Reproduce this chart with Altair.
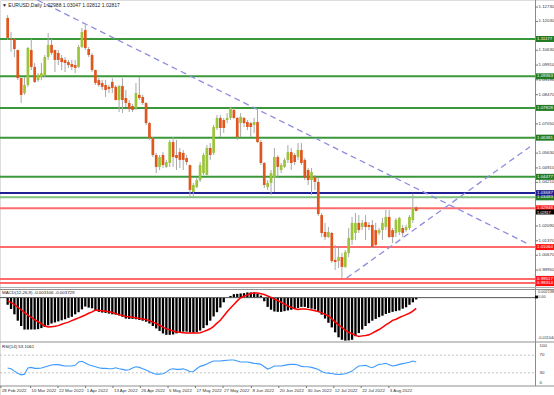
import altair as alt
import pandas as pd

header = "\u25bc EURUSD,Daily  1.02988 1.03047 1.02812 1.02817"
macd_title = "MACD(12,26,9) -0.003106 -0.003729"
rsi_title = "RSI(14) 53.1061"

opens = [1.1220,1.1118,1.1118,1.1064,1.0928,1.0855,1.0894,1.1064,1.0982,1.0918,
1.0933,1.0943,1.1030,1.1089,1.1064,1.1050,1.1025,1.1016,1.1006,1.0996,
1.0991,1.0982,1.1079,1.1161,1.1069,1.1040,1.0967,1.0918,1.0904,1.0894,
1.0885,1.0909,1.0885,1.0821,1.0889,1.0831,1.0807,1.0792,1.0782,1.0846,
1.0836,1.0807,1.0709,1.0636,1.0554,1.0496,1.0554,1.0496,1.0515,1.0617,
1.0554,1.0568,1.0564,1.0539,1.0505,1.0374,1.0398,1.0432,1.0466,1.0457,
1.0588,1.0564,1.0685,1.0734,1.0724,1.0724,1.0734,1.0773,1.0734,1.0709,
1.0734,1.0714,1.0709,1.0700,1.0714,1.0617,1.0515,1.0398,1.0418,1.0442,
1.0544,1.0481,1.0496,1.0530,1.0568,1.0554,1.0544,1.0578,1.0530,1.0481,
1.0432,1.0447,1.0423,1.0262,1.0180,1.0155,1.0175,1.0044,1.0039,1.0058,
1.0010,1.0078,1.0141,1.0175,1.0224,1.0204,1.0228,1.0214,1.0214,1.0189,
1.0175,1.0189,1.0204,1.0253,1.0189,1.0175,1.0180,1.0199,1.0189,1.0199,
1.0238,1.02988]
highs = [1.1234,1.1152,1.1120,1.1066,1.0930,1.0933,1.1079,1.1118,1.1001,1.0952,
1.1001,1.1040,1.1147,1.1118,1.1066,1.1064,1.1040,1.1030,1.1016,1.1016,
1.1016,1.1089,1.1171,1.1186,1.1079,1.1050,1.0969,1.0928,1.0918,1.0918,
1.0894,1.0928,1.0894,1.0894,1.0928,1.0870,1.0821,1.0802,1.0904,1.0933,
1.0846,1.0809,1.0714,1.0641,1.0564,1.0554,1.0568,1.0530,1.0627,1.0641,
1.0627,1.0588,1.0578,1.0554,1.0507,1.0418,1.0442,1.0520,1.0564,1.0602,
1.0612,1.0700,1.0748,1.0748,1.0734,1.0758,1.0787,1.0782,1.0739,1.0758,
1.0739,1.0724,1.0714,1.0734,1.0773,1.0627,1.0520,1.0432,1.0481,1.0588,
1.0554,1.0515,1.0539,1.0602,1.0588,1.0564,1.0612,1.0612,1.0539,1.0491,
1.0491,1.0457,1.0442,1.0272,1.0224,1.0204,1.0180,1.0117,1.0107,1.0078,
1.0092,1.0199,1.0253,1.0272,1.0262,1.0238,1.0262,1.0228,1.0238,1.0224,
1.0199,1.0248,1.0287,1.0287,1.0199,1.0248,1.0253,1.0214,1.0214,1.0262,
1.0366,1.03047]
lows = [1.1113,1.1055,1.1030,1.0918,1.0807,1.0846,1.0885,1.0967,1.0904,1.0909,
1.0918,1.0933,1.1016,1.1040,1.0957,1.0991,1.0967,1.0957,1.0977,1.0967,
1.0952,1.0977,1.1074,1.1064,1.1030,1.0957,1.0894,1.0885,1.0870,1.0836,
1.0855,1.0855,1.0819,1.0763,1.0758,1.0787,1.0763,1.0763,1.0773,1.0821,
1.0797,1.0700,1.0627,1.0544,1.0466,1.0481,1.0491,1.0491,1.0496,1.0496,
1.0481,1.0491,1.0481,1.0505,1.0345,1.0350,1.0393,1.0423,1.0457,1.0455,
1.0530,1.0554,1.0675,1.0641,1.0661,1.0709,1.0724,1.0729,1.0627,1.0641,
1.0690,1.0675,1.0641,1.0661,1.0612,1.0505,1.0393,1.0384,1.0359,1.0374,
1.0447,1.0466,1.0491,1.0515,1.0481,1.0505,1.0530,1.0505,1.0432,1.0408,
1.0359,1.0384,1.0257,1.0155,1.0141,1.0151,1.0029,0.9995,1.0005,0.9956,
1.0005,1.0058,1.0117,1.0141,1.0175,1.0189,1.0141,1.0189,1.0102,1.0107,
1.0165,1.0141,1.0189,1.0151,1.0126,1.0155,1.0165,1.0155,1.0180,1.0189,
1.0224,1.02812]
closes = [1.1123,1.1113,1.1069,1.0928,1.0846,1.0894,1.1074,1.0982,1.0909,1.0943,
1.0952,1.1030,1.1089,1.1050,1.1016,1.1016,1.1006,1.1001,1.0991,1.0982,
1.0977,1.1079,1.1152,1.1074,1.1040,1.0967,1.0904,1.0894,1.0885,1.0870,
1.0875,1.0880,1.0821,1.0889,1.0821,1.0807,1.0777,1.0773,1.0855,1.0831,
1.0807,1.0709,1.0636,1.0554,1.0496,1.0544,1.0505,1.0520,1.0617,1.0544,
1.0539,1.0530,1.0530,1.0520,1.0384,1.0408,1.0432,1.0505,1.0554,1.0588,
1.0554,1.0690,1.0734,1.0685,1.0685,1.0734,1.0782,1.0734,1.0641,1.0739,
1.0709,1.0690,1.0690,1.0714,1.0617,1.0515,1.0408,1.0418,1.0466,1.0544,
1.0496,1.0505,1.0530,1.0568,1.0515,1.0520,1.0578,1.0515,1.0442,1.0432,
1.0471,1.0423,1.0267,1.0175,1.0155,1.0180,1.0039,1.0034,1.0058,1.0010,
1.0082,1.0151,1.0224,1.0224,1.0189,1.0224,1.0204,1.0204,1.0107,1.0117,
1.0189,1.0224,1.0253,1.0155,1.0155,1.0238,1.0248,1.0175,1.0204,1.0253,
1.0296,1.02817]

# MACD main (histogram) and signal, in thousandths
macd_main = [-1.82,-2.90,-4.25,-5.87,-7.22,-8.12,-8.12,-8.12,-8.12,-8.03,
-7.76,-7.49,-7.04,-6.59,-6.32,-6.05,-5.78,-5.51,-5.15,-4.88,
-4.25,-3.71,-2.99,-2.27,-2.54,-2.72,-3.17,-3.62,-3.80,-3.89,
-4.07,-4.25,-4.34,-4.52,-4.88,-5.33,-5.42,-5.42,-5.51,-5.69,
-5.87,-6.14,-6.59,-7.22,-7.85,-8.48,-9.11,-9.47,-9.47,-9.38,
-9.11,-8.93,-8.66,-8.66,-8.84,-8.93,-8.75,-8.39,-7.76,-7.04,
-5.87,-4.79,-3.71,-2.54,-1.19,-0.02,0.43,0.88,0.97,1.06,
1.15,1.33,1.33,1.33,0.97,0.52,-0.92,-2.36,-3.08,-3.53,
-3.62,-3.62,-3.44,-3.26,-3.08,-2.81,-2.63,-2.36,-2.36,-2.63,
-2.81,-2.99,-3.53,-4.34,-5.33,-6.41,-7.58,-8.84,-10.10,-10.73,
-10.95,-10.90,-10.73,-9.83,-9.02,-8.12,-7.22,-6.50,-5.87,-5.42,
-4.97,-4.61,-4.16,-3.89,-3.62,-3.44,-3.26,-2.81,-2.45,-1.82,
-1.19,-0.47]
macd_signal = [-0.83,-1.28,-1.73,-2.45,-3.08,-3.80,-4.43,-5.06,-5.60,-6.14,
-6.68,-7.22,-7.49,-7.40,-7.31,-7.13,-6.77,-6.50,-6.23,-5.87,
-5.51,-5.15,-4.79,-4.43,-3.98,-3.62,-3.17,-3.26,-3.35,-3.44,
-3.62,-3.80,-4.07,-4.34,-4.52,-4.79,-4.88,-4.97,-5.15,-5.33,
-5.42,-5.60,-5.87,-6.23,-6.59,-7.04,-7.49,-7.94,-8.21,-8.48,
-8.75,-8.84,-8.93,-9.02,-9.02,-9.02,-9.02,-8.93,-8.66,-8.30,
-7.94,-7.31,-6.50,-5.78,-4.70,-3.62,-2.63,-1.73,-0.83,-0.02,
0.34,0.70,1.06,1.15,1.15,0.97,0.79,0.43,0.07,-0.38,
-0.74,-1.19,-1.64,-2.09,-2.45,-2.81,-2.99,-2.90,-2.90,-2.99,
-3.17,-3.35,-3.53,-3.89,-4.25,-4.61,-5.42,-6.23,-6.95,-7.58,
-8.30,-8.84,-9.20,-9.56,-9.92,-9.74,-9.65,-9.47,-9.02,-8.57,
-8.12,-7.58,-6.95,-6.41,-5.78,-5.51,-5.06,-4.70,-4.34,-3.98,
-3.44,-2.72]
rsi = [40.8,39.2,33.8,29.2,25.4,26.9,40.8,42.3,40.0,40.0,
40.8,43.1,45.4,47.7,48.5,48.5,46.9,45.4,45.4,45.4,
46.9,54.6,56.1,52.3,48.5,46.1,43.8,41.5,40.0,40.0,
39.2,39.2,41.5,39.2,37.7,36.2,36.9,40.8,43.8,42.3,
39.2,36.2,32.3,29.2,26.9,26.9,27.7,31.5,37.7,39.2,
37.7,37.7,39.2,36.2,32.3,33.1,39.2,44.6,46.9,50.0,
53.8,56.9,56.9,56.9,57.7,58.5,59.2,59.2,56.9,54.6,
54.6,54.6,53.1,51.5,50.8,49.2,43.8,38.5,41.5,45.4,
45.4,45.4,46.9,48.5,49.2,49.2,47.7,44.6,43.8,43.8,
42.3,40.0,37.7,33.1,30.0,29.2,28.5,26.9,26.2,26.9,
27.7,30.8,33.8,40.0,45.4,46.1,46.9,43.8,41.5,45.4,
49.2,50.0,51.5,48.5,45.4,46.9,49.2,50.8,52.3,53.8,
56.9,54.5]

date_labels = ["28 Feb 2022","10 Mar 2022","22 Mar 2022","1 Apr 2022","13 Apr 2022",
               "26 Apr 2022","5 May 2022","17 May 2022","27 May 2022","8 Jun 2022",
               "20 Jun 2022","30 Jun 2022","12 Jul 2022","22 Jul 2022","3 Aug 2022"]
date_bars = [-1.0, 7.8, 15.9, 24.1, 32.2, 40.3, 48.5, 56.6, 64.8, 73.2, 81.3, 89.5, 97.6, 105.7, 113.9]

price_ticks = [1.12730,1.12030,1.10630,1.09910,1.09190,1.08470,1.07050,1.05630,
               1.04910,1.04210,1.02090,1.01370,1.00670,0.99950]

level_prices = [1.11177,1.09363,1.07828,1.06381,1.04477,1.03483,1.03687,1.02948,1.01064,0.99517,0.99314]
level_kinds = ["res","res","res","res","res","zone","pivot","sup","sup","sup","sup"]

trend_ids = ["down","down","up","up"]
trend_bars = [9.81, 155.7, 101.4, 155.7]
trend_prices = [1.1307, 1.0117, 0.9956, 1.0594]

last_close = 1.02817

# ---------------- tables ----------------
n = len(closes)
bars = pd.DataFrame({"i": list(range(1, n + 1)), "open": opens, "high": highs,
                     "low": lows, "close": closes, "macd": macd_main,
                     "signal": macd_signal, "rsi": rsi})
levels = pd.DataFrame({"price": level_prices, "kind": level_kinds,
                       "label": [f"{p:.5f}" for p in level_prices]})
ticks = pd.DataFrame({"price": price_ticks, "label": [f"{p:.5f}" for p in price_ticks]})
dates = pd.DataFrame({"i": date_bars, "label": date_labels})
trend = pd.DataFrame({"id": trend_ids, "i": trend_bars, "price": trend_prices})
last = pd.DataFrame({"price": [last_close], "label": [f"{last_close:.5f}"]})

FONT = "Liberation Sans"
FS = 4.4
XS = alt.Scale(domain=[0.215, 155.7], range=[0, 535], nice=False, zero=False)
PY = alt.Scale(domain=[0.99124, 1.13072], range=[287, 0], nice=False, zero=False)
MY = alt.Scale(domain=[-11.044, 2.198], range=[341, 289], nice=False, zero=False)
RY = alt.Scale(domain=[0, 100], range=[386, 342], nice=False, zero=False)

X = alt.X("i:Q", scale=XS, axis=None)

def py(field):
    return alt.Y(f"{field}:Q", scale=PY, axis=None)

layers = []

frame = pd.DataFrame({"k": [0]})
def hline(y, color, w=1):
    return alt.Chart(frame).mark_rule(color=color, strokeWidth=w).encode(
        x=alt.value(0), x2=alt.value(554), y=alt.value(y))

layers.append(alt.Chart(frame).mark_rule(color="#8a8a8a", strokeWidth=1).encode(
    x=alt.value(535.5), y=alt.value(0), y2=alt.value(386)))

# level lines
lvl_color = alt.Color("kind:N", scale=alt.Scale(domain=["res", "zone", "pivot", "sup"],
                      range=["#3a983a", "#7cc27c", "#1f1f96", "#ff6b6b"]), legend=None)
layers.append(alt.Chart(levels).mark_rule(strokeWidth=2).encode(
    x=alt.value(0), x2=alt.value(535), y=py("price"), color=lvl_color))

# trend lines
layers.append(alt.Chart(trend).mark_line(color="#8d8de0", strokeWidth=1.3, strokeDash=[6, 4]).encode(
    x=X, y=py("price"), detail="id:N"))

# candles
layers.append(alt.Chart(bars).mark_rule(color="#a8a8a8", strokeWidth=1).encode(
    x=X, y=py("low"), y2="high:Q"))
layers.append(alt.Chart(bars).mark_bar(size=2.7).encode(
    x=X, y=py("open"), y2="close:Q",
    color=alt.condition("datum.close >= datum.open", alt.value("#9cc43a"), alt.value("#e0561f"))))

# right price axis
layers.append(alt.Chart(ticks).mark_rule(color="#777", strokeWidth=1).encode(
    x=alt.value(535), x2=alt.value(538), y=py("price")))
layers.append(alt.Chart(ticks).mark_text(align="left", baseline="middle", fontSize=FS, font=FONT,
                                         color="#333").encode(
    x=alt.value(538.5), y=py("price"), text="label:N"))

# level label boxes
box_color = alt.Color("kind:N", scale=alt.Scale(domain=["res", "zone", "pivot", "sup"],
                      range=["#237a23", "#237a23", "#1a1a8c", "#ff1010"]), legend=None)
layers.append(alt.Chart(levels).mark_tick(orient="horizontal", size=19, thickness=6).encode(
    x=alt.value(545.5), y=py("price"), color=box_color, opacity=alt.value(1)))
layers.append(alt.Chart(last).mark_tick(orient="horizontal", size=19, thickness=5, color="#000").encode(
    x=alt.value(545.5), y=py("price"), opacity=alt.value(1), yOffset=alt.value(1)))
layers.append(alt.Chart(levels).mark_text(align="left", baseline="middle", fontSize=FS, font=FONT,
                                          color="white").encode(
    x=alt.value(537), y=py("price"), text="label:N"))
layers.append(alt.Chart(last).mark_text(align="left", baseline="middle", fontSize=3.8, font=FONT,
                                        color="white", dy=1.5).encode(
    x=alt.value(537), y=py("price"), text="label:N"))

# header
layers.append(alt.Chart(pd.DataFrame({"t": [header]})).mark_text(
    align="left", baseline="middle", fontSize=5, font=FONT, color="#222").encode(
    x=alt.value(2), y=alt.value(5), text="t:N"))

# panel separators
layers.append(hline(287.5, "#b0b0b0"))
layers.append(hline(289.5, "#909090"))
layers.append(hline(342, "#909090"))
layers.append(hline(386, "#909090"))

# MACD panel
layers.append(alt.Chart(bars).mark_bar(size=2.3, color="#000").encode(
    x=X, y=alt.Y("macd:Q", scale=MY, axis=None), y2=alt.datum(0)))
layers.append(alt.Chart(pd.DataFrame({"z": [0.0]})).mark_rule(color="#555", strokeWidth=1).encode(
    x=alt.value(0), x2=alt.value(535), y=alt.Y("z:Q", scale=MY, axis=None)))
layers.append(alt.Chart(bars).mark_line(color="#ff0000", strokeWidth=1.5).encode(
    x=X, y=alt.Y("signal:Q", scale=MY, axis=None)))
layers.append(alt.Chart(pd.DataFrame({"t": [macd_title]})).mark_text(
    align="left", baseline="middle", fontSize=FS, font=FONT, color="#222").encode(
    x=alt.value(2), y=alt.value(292.5), text="t:N"))
macd_lbl = pd.DataFrame({"t": ["0.002198", "0.00", "-0.011044"], "y": [291.5, 297, 338]})
layers.append(alt.Chart(macd_lbl).mark_text(
    align="left", baseline="middle", fontSize=3.9, font=FONT, color="#333").encode(
    x=alt.value(538), y=alt.Y("y:Q", scale=alt.Scale(domain=[0, 395], range=[0, 395]), axis=None),
    text="t:N"))
layers.append(alt.Chart(frame).mark_square(size=8, color="#000", opacity=1).encode(
    x=alt.value(536.5), y=alt.value(297)))

# RSI panel
rsi_lv = pd.DataFrame({"v": [70, 30]})
layers.append(alt.Chart(rsi_lv).mark_rule(color="#b5b5b5", strokeWidth=0.8, strokeDash=[2, 2]).encode(
    x=alt.value(0), x2=alt.value(535), y=alt.Y("v:Q", scale=RY, axis=None)))
layers.append(alt.Chart(bars).mark_line(color="#3d9bff", strokeWidth=1.1).encode(
    x=X, y=alt.Y("rsi:Q", scale=RY, axis=None)))
layers.append(alt.Chart(pd.DataFrame({"t": [rsi_title]})).mark_text(
    align="left", baseline="middle", fontSize=FS, font=FONT, color="#222").encode(
    x=alt.value(2), y=alt.value(346.5), text="t:N"))
rsi_lbl = pd.DataFrame({"v": [100, 70, 30, 0], "t": ["100", "70", "30", "0"], "dy": [4, 0, 0, -3]})
for _, r in rsi_lbl.iterrows():
    layers.append(alt.Chart(pd.DataFrame({"v": [r["v"]], "t": [r["t"]]})).mark_text(
        align="left", baseline="middle", fontSize=FS, font=FONT, color="#333", dy=int(r["dy"])).encode(
        x=alt.value(539.5), y=alt.Y("v:Q", scale=RY, axis=None), text="t:N"))

# dates
layers.append(alt.Chart(dates).mark_rule(color="#777", strokeWidth=1).encode(
    x=X, y=alt.value(386), y2=alt.value(388)))
layers.append(alt.Chart(dates).mark_text(align="left", baseline="middle", fontSize=FS, font=FONT,
                                         color="#333", dx=1).encode(
    x=X, y=alt.value(390.5), text="label:N"))

chart = alt.layer(*layers).resolve_scale(y="independent", color="independent").properties(
    width=554, height=395, autosize=alt.AutoSizeParams(type="none"), padding=0
).configure_view(strokeWidth=0).configure(background="white")

chart.save("out.html", embed_options={"renderer": "svg", "actions": False})
